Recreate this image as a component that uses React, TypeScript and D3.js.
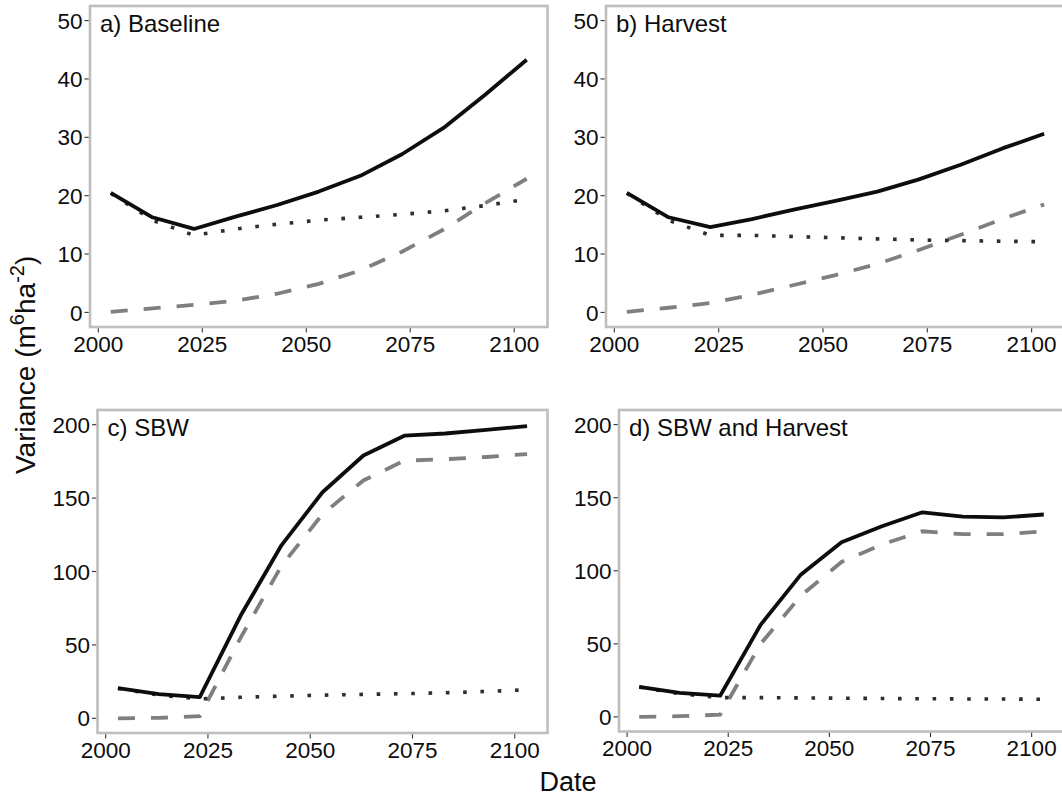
import React from "react";
import * as d3 from "d3";

const years = [2003, 2013, 2023, 2033, 2043, 2053, 2063, 2073, 2083, 2093, 2103];

const baselineTotal = [20.5, 16.3, 14.3, 16.4, 18.4, 20.7, 23.4, 27.1, 31.6, 37.3, 43.3];
const baselineDotted = [20.4, 15.8, 13.2, 14.3, 15.1, 15.8, 16.3, 16.8, 17.4, 18.3, 19.4];
const baselineDashed = [0.1, 0.7, 1.3, 2.0, 3.2, 4.9, 7.2, 10.4, 14.2, 18.7, 22.9];

const harvestTotal = [20.5, 16.3, 14.6, 16.0, 17.6, 19.1, 20.7, 22.8, 25.3, 28.1, 30.6];
const harvestDotted = [20.4, 15.8, 13.2, 13.2, 13.0, 12.8, 12.6, 12.4, 12.3, 12.2, 12.1];
const harvestDashed = [0.1, 0.8, 1.6, 3.0, 4.7, 6.4, 8.3, 10.7, 13.3, 16.0, 18.5];

const sbwTotal = [20.5, 16.5, 14.5, 70, 118, 154, 179, 192.5, 194, 196.5, 199];
const sbwDotted = [20.4, 15.8, 13.2, 14.3, 15.1, 15.8, 16.3, 16.8, 17.4, 18.3, 19.4];
const sbwDashed = [0, 0.3, 1.5, 55, 104, 139, 162, 175.5, 176.5, 178, 180];

const sbwHarvestTotal = [20.5, 16.5, 14.5, 63, 97.5, 119.5, 130.5, 140, 137, 136.5, 138.5];
const sbwHarvestDotted = [20.4, 15.8, 13.2, 13.2, 13.0, 12.8, 12.6, 12.4, 12.3, 12.2, 12.1];
const sbwHarvestDashed = [0, 0.5, 1.5, 50, 83, 106, 118, 127, 125, 125, 127];

const xTicks = [2000, 2025, 2050, 2075, 2100];
const yTicksSmall = [0, 10, 20, 30, 40, 50];
const yTicksLarge = [0, 50, 100, 150, 200];

const panels = [
  { title: "a) Baseline", total: baselineTotal, dotted: baselineDotted, dashed: baselineDashed, yTicks: yTicksSmall, yDomain: [-2.5, 52.5], box: { l: 90, r: 547.5, t: 6, b: 327 } },
  { title: "b) Harvest", total: harvestTotal, dotted: harvestDotted, dashed: harvestDashed, yTicks: yTicksSmall, yDomain: [-2.5, 52.5], box: { l: 606, r: 1065, t: 6, b: 327 } },
  { title: "c) SBW", total: sbwTotal, dotted: sbwDotted, dashed: sbwDashed, yTicks: yTicksLarge, yDomain: [-10, 210], box: { l: 97.5, r: 547.5, t: 410, b: 733 } },
  { title: "d) SBW and Harvest", total: sbwHarvestTotal, dotted: sbwHarvestDotted, dashed: sbwHarvestDashed, yTicks: yTicksLarge, yDomain: [-10, 210], box: { l: 619, r: 1064, t: 410, b: 731.5 } },
];

const FONT = "Liberation Sans, Arial, sans-serif";

function Panel({ p }: { p: any }) {
  const { l, r, t, b } = p.box;
  const x = d3.scaleLinear().domain([1998, 2108]).range([l, r]);
  const y = d3.scaleLinear().domain(p.yDomain).range([b, t]);
  const line = d3
    .line<number>()
    .x((_, i) => x(years[i]))
    .y((v) => y(v));
  return (
    <g>
      <rect x={l} y={t} width={r - l} height={b - t} fill="white" stroke="#bebebe" strokeWidth={2.6} />
      <path d={line(p.dashed) || ""} fill="none" stroke="#7f7f7f" strokeWidth={3.8} strokeDasharray="17,16" />
      <path d={line(p.dotted) || ""} fill="none" stroke="#2e2e2e" strokeWidth={3.6} strokeDasharray="3.6,13.7" />
      <path d={line(p.total) || ""} fill="none" stroke="#0d0d0d" strokeWidth={3.8} strokeLinejoin="round" />
      {p.yTicks.map((v: number) => (
        <g key={"y" + v}>
          <line x1={l - 5.5} x2={l - 1.3} y1={y(v)} y2={y(v)} stroke="#333" strokeWidth={1.1} />
          <text x={l - 7.5} y={y(v)} dy="0.36em" textAnchor="end" fontSize={22.5} fontFamily={FONT} fill="#0d0d0d">
            {v}
          </text>
        </g>
      ))}
      {xTicks.map((v) => (
        <g key={"x" + v}>
          <line x1={x(v)} x2={x(v)} y1={b + 1.3} y2={b + 5.5} stroke="#333" strokeWidth={1.1} />
          <text x={x(v)} y={b + 24.5} textAnchor="middle" fontSize={22.5} fontFamily={FONT} fill="#0d0d0d">
            {v}
          </text>
        </g>
      ))}
      <text x={l + 10} y={t + 26} fontSize={24} fontFamily={FONT} fill="#0d0d0d">
        {p.title}
      </text>
    </g>
  );
}

export default function App() {
  return (
    <svg
      width={1062}
      height={796}
      viewBox="0 0 1062 796"
      style={{ position: "absolute", left: 0, top: 0, background: "white" }}
    >
      <rect x={0} y={0} width={1062} height={796} fill="white" />
      {panels.map((p) => (
        <Panel key={p.title} p={p} />
      ))}
      <text x={568} y={791} textAnchor="middle" fontSize={27} fontFamily={FONT} fill="#0d0d0d">
        Date
      </text>
      <text transform="translate(35,474) rotate(-90)" textAnchor="start" fontSize={28} fontFamily={FONT} fill="#0d0d0d">
        Variance (m
        <tspan dy={-11} fontSize={20}>6</tspan>
        <tspan dy={11}>ha</tspan>
        <tspan dy={-11} fontSize={20}>-2</tspan>
        <tspan dy={11}>)</tspan>
      </text>
    </svg>
  );
}
